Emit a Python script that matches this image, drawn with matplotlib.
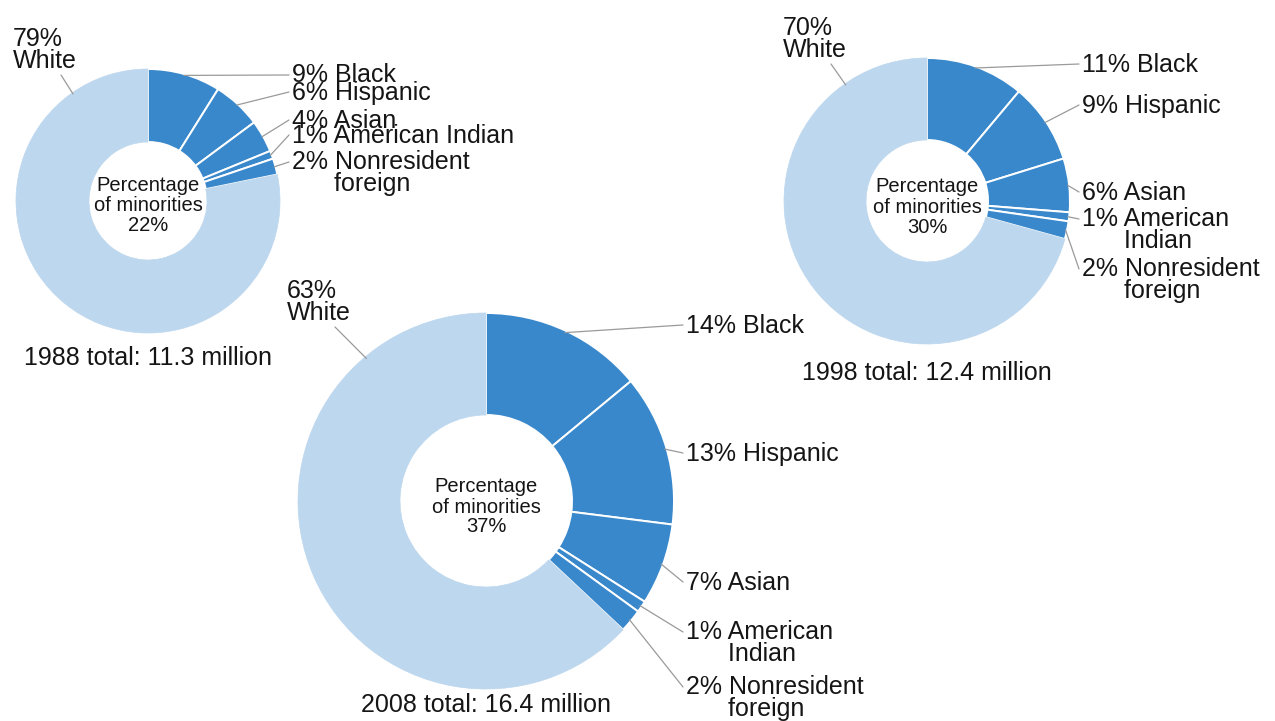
import matplotlib
matplotlib.use("Agg")
import matplotlib.pyplot as plt
import numpy as np

plt.rcParams['font.family'] = ['Liberation Sans', 'DejaVu Sans']

# ---------------- data ----------------
years = [1988, 1998, 2008]
categories = ['Black', 'Hispanic', 'Asian', 'American Indian', 'Nonresident foreign', 'White']
pct_1988 = [9, 6, 4, 1, 2, 79]
pct_1998 = [11, 9, 6, 1, 2, 70]
pct_2008 = [14, 13, 7, 1, 2, 63]
minority_share = [22, 30, 37]
totals_million = [11.3, 12.4, 16.4]
# label wording (line breaks as printed)
labels_1988 = ['Black', 'Hispanic', 'Asian', 'American Indian', 'Nonresident\nforeign']
labels_later = ['Black', 'Hispanic', 'Asian', 'American\nIndian', 'Nonresident\nforeign']

series = [pct_1988, pct_1998, pct_2008]
label_sets = [labels_1988, labels_later, labels_later]

# ---------------- style / layout ----------------
DARK = '#3a88cc'
LIGHT = '#bdd7ee'
LINE = '#9a9a9a'
TXT = '#151515'
FS = 18
FS_C = 14.5
LS = 0.88          # line spacing of two-line labels (~21 px step)
STEP2 = 21         # pixel step to the second line
INDENT = ' ' * 6   # second line starts under the category word

# fb = baseline of the FIRST line of each minority label
# groups = labels set as one stacked text block (with its own line spacing)
layouts = [
    dict(c=(148, 201), R=132, r=59, lx=292, fb=[83, 100, 128, 143, 170],
         groups=[([0, 1], 0.66), ([2, 3], 0.55), ([4], LS)],
         wlab=(13, 68), wang=-125, tot=365, cen=(191, 211, 231)),
    dict(c=(927, 201), R=143, r=61, lx=1082, fb=[72, 113, 200, 227, 277],
         groups=[([0], LS), ([1], LS), ([2], LS), ([3], LS), ([4], LS)],
         wlab=(783, 57), wang=-125, tot=380, cen=(192, 213, 233)),
    dict(c=(486, 501), R=188, r=86, lx=686, fb=[333, 461, 590, 640, 695],
         groups=[([0], LS), ([1], LS), ([2], LS), ([3], LS), ([4], LS)],
         wlab=(287, 320), wang=-130, tot=712, cen=(492, 513, 532)),
]

fig = plt.figure(figsize=(12.75, 7.21), dpi=100)
ax = fig.add_axes([0, 0, 1, 1])

for k, (vals, labs, L) in enumerate(zip(series, label_sets, layouts)):
    vals = np.array(vals, dtype=float)
    cx, cy = L['c']
    R, r = L['R'], L['r']
    colors = [DARK] * (len(vals) - 1) + [LIGHT]
    wedges, _ = ax.pie(vals, colors=colors, startangle=-90, counterclock=True,
                       radius=R, center=(cx, cy), frame=True,
                       wedgeprops=dict(width=R - r, linewidth=1.4, edgecolor='white'))
    wedges[-1].set_edgecolor(LIGHT)
    wedges[-1].set_linewidth(0.5)

    total = vals.sum()
    cum = np.concatenate([[0], np.cumsum(vals)[:-1]])
    mids = np.deg2rad(-90 + 360 * (cum + vals / 2) / total)

    # label texts
    texts = []
    for i in range(len(vals) - 1):
        parts = labs[i].split('\n')
        t = f"{int(vals[i])}% {parts[0]}"
        if len(parts) > 1:
            t += '\n' + INDENT + parts[1]
        texts.append(t)

    for items, ls in L['groups']:
        last = items[-1]
        anchor = L['fb'][last] + (STEP2 if '\n' in texts[last] else 0)
        ax.text(L['lx'], anchor, '\n'.join(texts[j] for j in items),
                ha='left', va='baseline', fontsize=FS, color=TXT, linespacing=ls)

    # leader lines from each label to its wedge
    for i in range(len(vals) - 1):
        ex = cx + 0.99 * R * np.cos(mids[i])
        ey = cy + 0.99 * R * np.sin(mids[i])
        ax.annotate('', xy=(ex, ey), xytext=(L['lx'] - 3, L['fb'][i] - 8),
                    annotation_clip=False,
                    arrowprops=dict(arrowstyle='-', color=LINE, lw=0.9,
                                    shrinkA=0, shrinkB=0))

    # White label (two lines, tight spacing)
    wx, wb = L['wlab']
    ax.text(wx, wb, f"{int(vals[-1])}%\n{categories[-1]}", ha='left', va='baseline',
            fontsize=FS, color=TXT, linespacing=LS)
    wa = np.deg2rad(L['wang'])
    ax.annotate('', xy=(cx + 0.99 * R * np.cos(wa), cy + 0.99 * R * np.sin(wa)),
                xytext=(wx + 48, wb + 7), annotation_clip=False,
                arrowprops=dict(arrowstyle='-', color=LINE, lw=0.9, shrinkA=0, shrinkB=0))

    # centre text
    b1, b2, b3 = L['cen']
    ax.text(cx, b1, 'Percentage', ha='center', va='baseline', fontsize=FS_C, color=TXT)
    ax.text(cx, b2, 'of minorities', ha='center', va='baseline', fontsize=FS_C, color=TXT)
    ax.text(cx, b3, f"{minority_share[k]}%", ha='center', va='baseline', fontsize=FS_C, color=TXT)

    # total
    ax.text(cx, L['tot'], f"{years[k]} total: {totals_million[k]} million",
            ha='center', va='baseline', fontsize=FS, color=TXT)

ax.set_xlim(0, 1275)
ax.set_ylim(721, 0)
ax.set_aspect('equal')
ax.axis('off')

fig.savefig('out.png', dpi=100, facecolor='white')
